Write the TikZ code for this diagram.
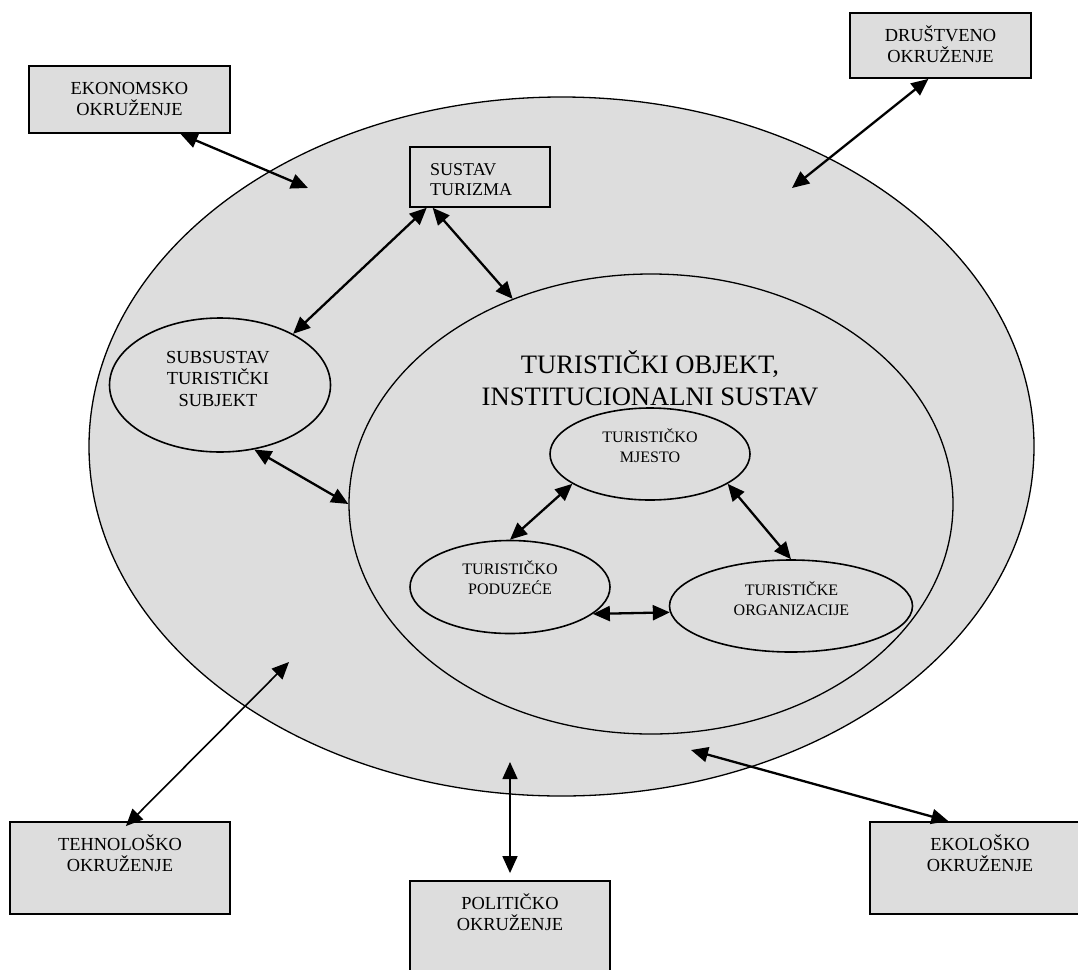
\documentclass[tikz,border=0pt]{standalone}
\usepackage{fontspec}
\setmainfont{Liberation Serif}
\usetikzlibrary{shapes.geometric,arrows.meta}

\definecolor{siva}{RGB}{221,221,221}

\begin{document}
\begin{tikzpicture}[x=1pt,y=-1pt]
        \tikzstyle{okvir}=[rectangle, draw, line width=1.8pt, fill=siva, inner sep=0];
        \tikzstyle{elipsa}=[ellipse, draw, line width=1.6pt, fill=siva, inner sep=0];
        \tikzstyle{tekst}=[align=center, inner sep=0, font=\fontsize{18.4}{21}\selectfont];
        \tikzstyle{sitno}=[align=center, inner sep=0, font=\fontsize{16}{20}\selectfont];
        \tikzstyle{strelica}=[{Triangle[length=17pt,width=15pt]}-{Triangle[length=17pt,width=15pt]}, line width=2.3pt];

        \clip (0,0) rectangle (1078,969);

        \node[elipsa, line width=1.3pt, minimum width=945, minimum height=699] (okolina) at (561.5,446.5) {};
        \node[elipsa, line width=1.3pt, minimum width=604, minimum height=460] (objekt) at (651,504) {};
        \node[tekst, font=\fontsize{26.6}{32}\selectfont] (objektT) at (650,378) {TURISTIČKI OBJEKT,\\INSTITUCIONALNI SUSTAV};

        \node[elipsa, minimum width=221, minimum height=134] (subjekt) at (220,385) {};
        \node[tekst, font=\fontsize{18.4}{21.5}\selectfont] (subjektT) at (218,378.5) {SUBSUSTAV\\TURISTIČKI\\SUBJEKT};

        \node[okvir, line width=1.5pt, minimum width=140, minimum height=60] (sustav) at (480,177) {};
        \node[tekst, anchor=west, align=left, font=\fontsize{18}{20}\selectfont] (sustavT) at (430,180) {SUSTAV\\TURIZMA};

        \node[elipsa, minimum width=200, minimum height=92] (mjesto) at (650,454) {};
        \node[sitno] (mjestoT) at (650,446) {TURISTIČKO\\MJESTO};
        \node[elipsa, minimum width=200, minimum height=93] (poduzece) at (510,587) {};
        \node[sitno] (poduzeceT) at (510,578) {TURISTIČKO\\PODUZEĆE};
        \node[elipsa, minimum width=243, minimum height=92] (org) at (791,606) {};
        \node[sitno] (orgT) at (791.5,598.7) {TURISTIČKE\\ORGANIZACIJE};

        \foreach \ime/\naziv/\x/\y/\w/\h/\ty in {ekon/EKONOMSKO/129.5/99.5/201/67/98.5,
            drus/DRUŠTVENO/940.5/45.5/181/65/44.5, tehn/TEHNOLOŠKO/120/868/220/92/853,
            pol/POLITIČKO/510/940.5/200/119/912, eko/EKOLOŠKO/980/868/220/92/853.5}{
          \node[okvir, minimum width=\w, minimum height=\h] (\ime) at (\x,\y) {};
          \node[tekst] (\ime T) at (\x,\ty) {\naziv\\OKRUŽENJE};
        }

        \coordinate (ekonK) at (308,188);
        \coordinate (drusK) at (792,188);
        \coordinate (tehnK) at (289,662);
        \coordinate (polK) at (510,762);
        \coordinate (ekoK) at (691,750);

        \draw[strelica] (ekon.-34) -- (ekonK);
        \draw[strelica] (drus.250) -- (drusK);
        \draw[strelica, line width=1.6pt, shorten <=-7pt] (tehn.77) -- (tehnK);
        \draw[strelica, line width=1.6pt, shorten <=7pt] (pol.north) -- (polK);
        \draw[strelica] (eko.124) -- (ekoK);
        \draw[strelica] (sustav.210) -- (subjekt.35);
        \draw[strelica] (sustav.213) -- (objekt.124);
        \draw[strelica] (subjekt.-62) -- (objekt.180);
        \draw[strelica] (mjesto.201) -- (poduzece.north);
        \draw[strelica] (mjesto.-21) -- (org.north);
        \draw[strelica] (poduzece.-18) -- (org.183);
\end{tikzpicture}
\end{document}
